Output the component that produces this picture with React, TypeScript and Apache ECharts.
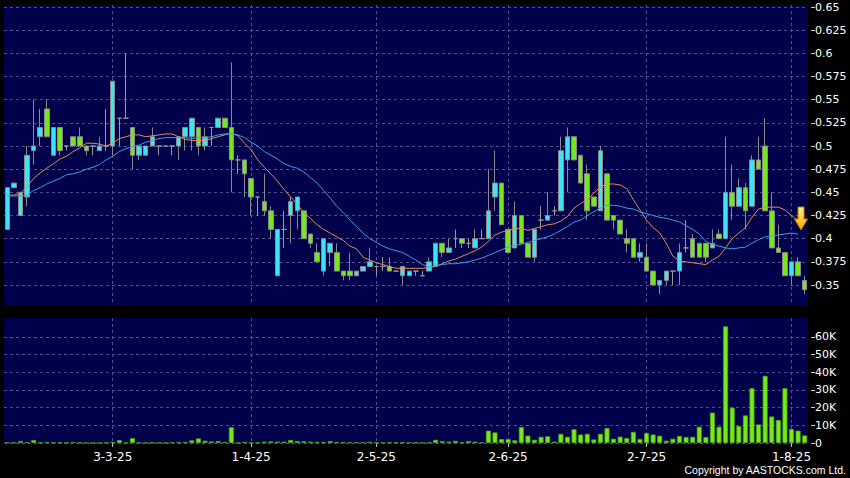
import React, { useEffect, useRef } from 'react';
import * as echarts from 'echarts';

const dates = [
  '7-2-25','10-2-25','11-2-25','12-2-25','13-2-25','14-2-25','17-2-25','18-2-25','19-2-25','20-2-25','21-2-25','24-2-25','25-2-25','26-2-25','27-2-25','28-2-25',
  '3-3-25','4-3-25','5-3-25','6-3-25','7-3-25','10-3-25','11-3-25','12-3-25','13-3-25','14-3-25','17-3-25','18-3-25','19-3-25','20-3-25','21-3-25','24-3-25','25-3-25','26-3-25','27-3-25','28-3-25','31-3-25',
  '1-4-25','2-4-25','3-4-25','7-4-25','8-4-25','9-4-25','10-4-25','11-4-25','14-4-25','15-4-25','16-4-25','17-4-25','22-4-25','23-4-25','24-4-25','25-4-25','28-4-25','29-4-25','30-4-25',
  '2-5-25','6-5-25','7-5-25','8-5-25','9-5-25','12-5-25','13-5-25','14-5-25','15-5-25','16-5-25','19-5-25','20-5-25','21-5-25','22-5-25','23-5-25','26-5-25','27-5-25','28-5-25','29-5-25','30-5-25',
  '2-6-25','3-6-25','4-6-25','5-6-25','6-6-25','9-6-25','10-6-25','11-6-25','12-6-25','13-6-25','16-6-25','17-6-25','18-6-25','19-6-25','20-6-25','23-6-25','24-6-25','25-6-25','26-6-25','27-6-25','30-6-25',
  '2-7-25','3-7-25','4-7-25','7-7-25','8-7-25','9-7-25','10-7-25','11-7-25','14-7-25','15-7-25','16-7-25','17-7-25','18-7-25','21-7-25','22-7-25','23-7-25','24-7-25','25-7-25','28-7-25','29-7-25','30-7-25','31-7-25',
  '1-8-25','4-8-25','5-8-25',
];

const opens = [
  0.41,0.455,0.425,0.445,0.495,0.51,0.54,0.49,0.52,0.50,
  0.51,0.51,0.50,0.50,0.495,0.50,0.50,0.53,0.53,0.52,
  0.49,0.49,0.50,0.50,0.50,0.50,0.50,0.51,0.51,0.52,
  0.50,0.52,0.52,0.53,0.52,0.485,0.485,0.465,0.445,0.44,
  0.43,0.36,0.41,0.425,0.43,0.43,0.405,0.385,0.365,0.385,
  0.385,0.365,0.365,0.36,0.365,0.37,0.37,0.37,0.37,0.365,
  0.36,0.36,0.365,0.36,0.365,0.37,0.395,0.385,0.40,0.40,
  0.395,0.39,0.40,0.40,0.445,0.46,0.41,0.39,0.425,0.395,
  0.38,0.42,0.42,0.43,0.43,0.485,0.51,0.49,0.47,0.445,
  0.43,0.47,0.425,0.42,0.40,0.40,0.38,0.38,0.365,0.35,
  0.355,0.365,0.365,0.39,0.40,0.395,0.395,0.39,0.405,0.40,
  0.45,0.435,0.455,0.435,0.485,0.50,0.43,0.39,0.385,0.36,
  0.375,0.355,
];
const closes = [
  0.455,0.46,0.45,0.49,0.50,0.52,0.51,0.52,0.495,0.50,
  0.50,0.50,0.495,0.50,0.50,0.50,0.57,0.53,0.53,0.49,
  0.50,0.50,0.51,0.50,0.50,0.50,0.51,0.52,0.53,0.50,
  0.51,0.52,0.53,0.52,0.485,0.485,0.47,0.445,0.445,0.43,
  0.41,0.41,0.41,0.44,0.445,0.40,0.395,0.375,0.40,0.395,
  0.365,0.36,0.36,0.365,0.37,0.375,0.37,0.37,0.365,0.365,
  0.37,0.365,0.365,0.36,0.375,0.395,0.385,0.39,0.40,0.395,
  0.395,0.40,0.40,0.43,0.46,0.415,0.385,0.425,0.395,0.38,
  0.41,0.42,0.425,0.43,0.495,0.51,0.485,0.46,0.43,0.435,
  0.495,0.42,0.42,0.405,0.395,0.38,0.385,0.365,0.35,0.355,
  0.365,0.365,0.385,0.39,0.38,0.38,0.38,0.395,0.40,0.45,
  0.435,0.455,0.43,0.485,0.475,0.43,0.39,0.385,0.36,0.375,
  0.36,0.345,
];
const lows = [
  0.41,0.455,0.425,0.435,0.48,0.50,0.51,0.49,0.49,0.495,
  0.50,0.50,0.49,0.49,0.495,0.495,0.49,0.50,0.53,0.475,
  0.485,0.49,0.50,0.49,0.50,0.49,0.485,0.495,0.495,0.49,
  0.495,0.50,0.52,0.52,0.45,0.47,0.445,0.425,0.425,0.425,
  0.40,0.36,0.39,0.395,0.41,0.40,0.39,0.375,0.36,0.37,
  0.365,0.355,0.355,0.36,0.365,0.37,0.36,0.365,0.365,0.365,
  0.35,0.36,0.36,0.36,0.365,0.37,0.38,0.385,0.39,0.39,
  0.39,0.39,0.40,0.40,0.43,0.415,0.385,0.39,0.395,0.38,
  0.375,0.41,0.42,0.425,0.43,0.45,0.485,0.46,0.42,0.435,
  0.43,0.42,0.41,0.405,0.385,0.38,0.375,0.365,0.35,0.34,
  0.35,0.35,0.35,0.385,0.38,0.38,0.375,0.39,0.40,0.40,
  0.42,0.435,0.41,0.435,0.475,0.43,0.39,0.385,0.36,0.35,
  0.36,0.34,
];
const highs = [
  0.455,0.46,0.45,0.50,0.55,0.54,0.55,0.52,0.52,0.50,
  0.51,0.52,0.50,0.50,0.51,0.54,0.57,0.53,0.60,0.52,
  0.50,0.50,0.52,0.50,0.50,0.50,0.51,0.52,0.53,0.52,
  0.52,0.52,0.53,0.53,0.59,0.49,0.485,0.465,0.445,0.47,
  0.435,0.41,0.43,0.445,0.445,0.43,0.405,0.395,0.40,0.395,
  0.395,0.365,0.385,0.365,0.37,0.39,0.37,0.38,0.38,0.365,
  0.37,0.365,0.365,0.365,0.38,0.395,0.395,0.40,0.41,0.40,
  0.40,0.41,0.41,0.475,0.495,0.46,0.41,0.44,0.425,0.395,
  0.41,0.435,0.45,0.435,0.51,0.52,0.51,0.49,0.48,0.445,
  0.50,0.47,0.425,0.42,0.41,0.40,0.395,0.395,0.365,0.355,
  0.365,0.365,0.395,0.42,0.405,0.395,0.395,0.41,0.41,0.51,
  0.48,0.465,0.46,0.49,0.51,0.53,0.45,0.415,0.385,0.375,
  0.38,0.36,
];

const ma10 = [
  0.447,0.447,0.449,0.456,0.465,0.471,0.476,0.481,0.486,0.489,
  0.494,0.498,0.503,0.503,0.502,0.500,0.503,0.508,0.510,0.512,
  0.512,0.510,0.511,0.512,0.513,0.513,0.510,0.507,0.506,0.506,
  0.506,0.508,0.510,0.512,0.514,0.511,0.503,0.496,0.485,0.477,
  0.470,0.462,0.453,0.445,0.437,0.428,0.422,0.415,0.410,0.406,
  0.402,0.398,0.392,0.389,0.380,0.377,0.374,0.372,0.370,0.368,
  0.368,0.368,0.368,0.368,0.369,0.370,0.373,0.376,0.378,0.381,
  0.384,0.387,0.391,0.397,0.404,0.407,0.409,0.411,0.411,0.409,
  0.411,0.413,0.415,0.416,0.419,0.424,0.433,0.438,0.442,0.449,
  0.456,0.459,0.459,0.458,0.454,0.442,0.431,0.420,0.412,0.406,
  0.395,0.381,0.376,0.375,0.374,0.373,0.372,0.377,0.381,0.390,
  0.400,0.406,0.412,0.423,0.432,0.434,0.434,0.434,0.431,0.425,
  0.419,null,
];
const ma20 = [
  0.446,0.446,0.446,0.447,0.452,0.455,0.459,0.462,0.465,0.469,
  0.470,0.472,0.475,0.477,0.480,0.485,0.489,0.494,0.497,0.4995,
  0.501,0.504,0.506,0.508,0.509,0.509,0.509,0.509,0.508,0.509,
  0.509,0.510,0.512,0.513,0.513,0.512,0.509,0.504,0.500,0.494,
  0.490,0.486,0.481,0.478,0.476,0.472,0.466,0.460,0.452,0.444,
  0.435,0.428,0.420,0.413,0.406,0.400,0.396,0.392,0.389,0.387,
  0.385,0.381,0.377,0.372,0.370,0.371,0.372,0.373,0.373,0.374,
  0.375,0.377,0.379,0.382,0.385,0.388,0.391,0.393,0.394,0.396,
  0.398,0.400,0.402,0.405,0.409,0.413,0.418,0.420,0.425,0.429,
  0.433,0.436,0.436,0.435,0.433,0.432,0.429,0.427,0.425,0.423,
  0.422,0.420,0.418,0.414,0.410,0.405,0.397,0.394,0.392,0.390,
  0.389,0.390,0.391,0.395,0.399,0.402,0.403,0.404,0.405,0.406,
  0.405,null,
];

const volumes = [
  300,200,1100,400,1700,200,600,200,200,200,
  500,200,100,100,100,200,600,1700,100,2800,
  100,100,300,100,100,200,400,600,1500,2600,
  1300,900,1100,600,8900,100,600,100,200,800,
  900,800,800,1700,1100,1000,800,600,600,1100,
  500,300,400,400,400,700,200,200,300,200,
  400,200,200,200,300,1800,1000,800,1200,300,
  1100,800,300,7000,6000,2200,2200,1500,9000,4200,
  1800,3500,3800,800,5200,3500,7800,4800,5200,2000,
  5200,8500,2400,3600,2800,6300,2300,5700,4800,4100,
  1300,2400,4000,3400,3500,9200,3400,17200,9200,66000,
  20000,9600,15600,31000,10500,38000,15000,13000,31000,7900,
  7000,4300,
];

const labelDates = ['3-3-25', '1-4-25', '2-5-25', '2-6-25', '2-7-25', '1-8-25'];
const priceTicks = [0.35, 0.375, 0.4, 0.425, 0.45, 0.475, 0.5, 0.525, 0.55, 0.575, 0.6, 0.625, 0.65];
const volumeTicks = [0, 10000, 20000, 30000, 40000, 50000, 60000];

const NAVY = '#00004b';
const GRID_LINE = '#4f4f92';

export default function App() {
  const ref = useRef<HTMLDivElement>(null);

  useEffect(() => {
    document.body.style.margin = '0';
    document.body.style.background = '#000';
    const chart = echarts.init(ref.current!, null, { renderer: 'svg' });

    const isLabel = (idx: number) => labelDates.includes(dates[idx]);
    const band = (850 - 4 - 42) / dates.length;
    const half = band / 2;

    const hiddenCat = (gridIndex: number, withSplit: boolean) => ({
      type: 'category', gridIndex, data: dates, boundaryGap: !withSplit,
      axisLine: { show: false }, axisTick: { show: false }, axisLabel: { show: false },
      splitLine: withSplit
        ? { show: true, interval: (idx: number) => isLabel(idx), lineStyle: { color: GRID_LINE, type: [3, 3], width: 1 } }
        : { show: false },
    });
    const splitLineY = {
      show: true,
      lineStyle: { color: GRID_LINE, type: [3, 3], width: 1 },
    };

    const candleData = dates.map((_, i) => [opens[i], closes[i], lows[i], highs[i]]);

    chart.setOption({
      animation: false,
      backgroundColor: '#000',
      grid: [
        { left: 4, right: 42, top: 7, height: 301.17 },
        { left: 4, right: 42, top: 319.3, height: 123.7 },
        { left: 4 + half, right: 42 + half, top: 5, height: 300 },
        { left: 4 + half, right: 42 + half, top: 318, height: 125 },
      ],
      xAxis: [
        hiddenCat(0, false),
        {
          type: 'category', gridIndex: 1, data: dates, boundaryGap: true,
          axisLine: { show: false },
          axisTick: {
            show: true, alignWithLabel: true, length: 4,
            interval: (idx: number) => isLabel(idx),
            lineStyle: { color: '#bbbbbb' },
          },
          axisLabel: {
            show: true, interval: (idx: number) => isLabel(idx),
            color: '#ffffff', fontFamily: 'DejaVu Sans', fontSize: 12, margin: 8,
          },
          splitLine: { show: false },
        },
        hiddenCat(2, true),
        hiddenCat(3, true),
      ],
      yAxis: [
        {
          type: 'value', gridIndex: 0, position: 'right', min: 0.325, max: 0.65, interval: 0.025,
          offset: 3,
          axisLine: { show: false },
          axisTick: { show: true, length: 4, customValues: priceTicks, lineStyle: { color: '#cccccc' } },
          axisLabel: {
            customValues: priceTicks, color: '#ffffff', fontFamily: 'DejaVu Sans', fontSize: 11, margin: 4,
            formatter: (v: number) => String(Number(v.toFixed(3))),
          },
          splitLine: splitLineY,
        },
        {
          type: 'value', gridIndex: 1, position: 'right', min: 0, max: 70000, interval: 10000,
          offset: 3,
          axisLine: { show: false },
          axisTick: { show: true, length: 4, customValues: volumeTicks, lineStyle: { color: '#cccccc' } },
          axisLabel: {
            customValues: volumeTicks, color: '#ffffff', fontFamily: 'DejaVu Sans', fontSize: 11, margin: 4,
            formatter: (v: number) => (v === 0 ? '0' : `${v / 1000}K`),
          },
          splitLine: splitLineY,
        },
        { type: 'value', gridIndex: 2, show: false, splitLine: { show: false } },
        { type: 'value', gridIndex: 3, show: false, splitLine: { show: false } },
      ],
      graphic: [
        { type: 'rect', z: -10, silent: true, shape: { x: 4, y: 5, width: 804, height: 300 }, style: { fill: NAVY } },
        { type: 'rect', z: -10, silent: true, shape: { x: 4, y: 318, width: 804, height: 125 }, style: { fill: NAVY } },
        {
          type: 'polygon', z: 10,
          shape: { points: [[798, 207], [804, 207], [804, 219], [807.5, 219], [801, 230], [794.5, 219], [798, 219]] },
          style: {
            fill: new echarts.graphic.LinearGradient(0, 0, 0, 1, [
              { offset: 0, color: '#fff27a' },
              { offset: 1, color: '#f5a800' },
            ]),
            stroke: '#c87800', lineWidth: 1,
          },
        },
        {
          type: 'text', z: 10, x: 846, y: 470,
          style: {
            text: 'Copyright by AASTOCKS.com Ltd.', fill: '#ffffff',
            font: '10.5px "Liberation Sans"', align: 'right', verticalAlign: 'middle',
          },
        },
      ],
      series: [
        {
          type: 'candlestick', name: 'Price', xAxisIndex: 0, yAxisIndex: 0,
          data: candleData, barWidth: 5,
          itemStyle: {
            color: '#38e6f4', color0: '#74e81e',
            borderColor: '#8a8a8a', borderColor0: '#8a8a8a', borderColorDoji: '#9a9a9a', borderWidth: 1,
          },
        },
        {
          type: 'line', name: 'MA10', xAxisIndex: 0, yAxisIndex: 0, data: ma10,
          symbol: 'none', lineStyle: { color: '#e48c58', width: 1 }, z: 3,
        },
        {
          type: 'line', name: 'MA20', xAxisIndex: 0, yAxisIndex: 0, data: ma20,
          symbol: 'none', lineStyle: { color: '#3c9fe6', width: 1 }, z: 3,
        },
        {
          type: 'bar', name: 'Volume', xAxisIndex: 1, yAxisIndex: 1, data: volumes, barWidth: 5,
          itemStyle: { color: '#72ec14', borderColor: '#4fa80e', borderWidth: 0.8 },
        },
      ],
    });

    return () => chart.dispose();
  }, []);

  return <div ref={ref} style={{ width: 850, height: 478, background: '#000' }} />;
}
